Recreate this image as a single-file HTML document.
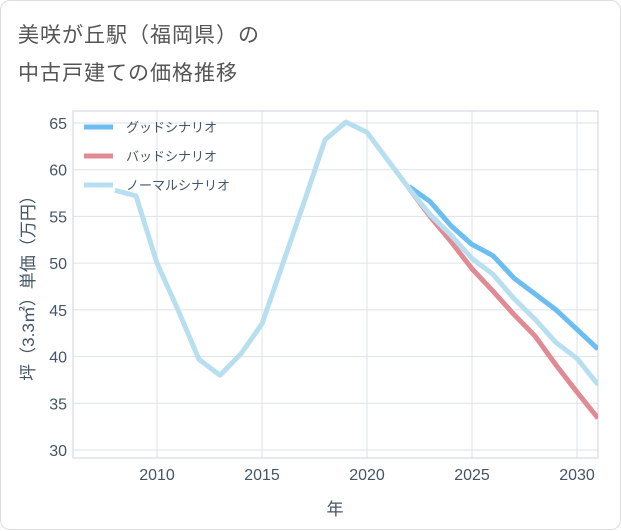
<!DOCTYPE html>
<html><head><meta charset="utf-8"><style>
body{margin:0;background:#fff;font-family:"Liberation Sans","Noto Sans CJK JP",sans-serif}
#card{position:absolute;left:0;top:0;width:619px;height:528px;border:1px solid #ddd;border-radius:10px;background:#fff}
.title{position:absolute;left:17px;font-size:21px;color:#555;letter-spacing:1px}
</style></head><body>
<div id="card">
<div class="title" style="top:18px">美咲が丘駅（福岡県）の</div>
<div class="title" style="top:56px">中古戸建ての価格推移</div>
<svg id="chart" width="621" height="530" style="position:absolute;left:0;top:0"></svg>
</div>
<script>
const years=[2008,2009,2010,2011,2012,2013,2014,2015,2016,2017,2018,2019,2020,2021,2022,2023,2024,2025,2026,2027,2028,2029,2030,2031];
const normal=[57.8,57.2,50,45,39.7,38,40.3,43.5,50,56.5,63.2,65.1,64,61,58,55.2,53,50.5,48.8,46.2,44,41.5,39.8,37];
const goodYears=[2022,2023,2024,2025,2026,2027,2028,2029,2030,2031];
const good=[58.2,56.6,54,52,50.8,48.4,46.7,45,42.9,40.8];
const bad=[58,55,52.3,49.4,47,44.5,42.2,39.1,36.2,33.4];
const xTicks=[2010,2015,2020,2025,2030];
const yTicks=[30,35,40,45,50,55,60,65];
const NS='http://www.w3.org/2000/svg',svg=document.getElementById('chart');
const L=72,R=597,T=110,B=457;
const x=v=>156+(v-2010)*21, y=v=>449-(v-30)*9.343;
function mk(t,a){const e=document.createElementNS(NS,t);for(const k in a)e.setAttribute(k,a[k]);svg.appendChild(e);return e;}
for(const t of yTicks){const g=mk('line',{x1:L,x2:R,y1:y(t),y2:y(t),stroke:'#dde3ea'});

const l=mk('text',{x:L-6,y:y(t)+6,'text-anchor':'end','font-size':16,fill:'#445566'});l.textContent=t;
}
for(const t of xTicks){const g=mk('line',{x1:x(t),x2:x(t),y1:T,y2:B,stroke:'#dde3ea'});

const l=mk('text',{x:x(t),y:B+22,'text-anchor':'middle','font-size':16,fill:'#445566'});l.textContent=t;
}
const fr=mk('rect',{x:L,y:T,width:R-L,height:B-T,fill:'none',stroke:'#ccd4dc'});

function line(xs,vs,c,name){const p=mk('polyline',{points:xs.map((v,i)=>x(v)+','+y(vs[i])).join(' '),fill:'none',stroke:c,'stroke-width':5,'stroke-linejoin':'round','clip-path':'url(#c)'});
}
const clip=mk('clipPath',{id:'c'});const cr=document.createElementNS(NS,'rect');cr.setAttribute('x',L);cr.setAttribute('y',T);cr.setAttribute('width',R-L);cr.setAttribute('height',B-T);clip.appendChild(cr);
line(goodYears,good,'#6cbef0','good-scenario-line');
line(goodYears,bad,'#e08a94','bad-scenario-line');
line(years,normal,'#b8dff0','normal-scenario-line');
const leg=[['グッドシナリオ','#6cbef0'],['バッドシナリオ','#e08a94'],['ノーマルシナリオ','#b8dff0']];
leg.forEach((d,i)=>{const yy=126+i*29;
const s=mk('line',{x1:83,x2:112,y1:yy,y2:yy,stroke:d[1],'stroke-width':5});
const t=mk('text',{x:125,y:yy+5,'font-size':13,fill:'#445566'});t.textContent=d[0];});
const xt=mk('text',{x:334,y:514,'text-anchor':'middle','font-size':17,fill:'#445566'});xt.textContent='年';
const yt=mk('text',{x:0,y:0,'text-anchor':'middle','font-size':17,fill:'#445566',transform:'translate(33,283) rotate(-90)'});yt.textContent='坪（3.3㎡）単価（万円）';
</script>
</body></html>
